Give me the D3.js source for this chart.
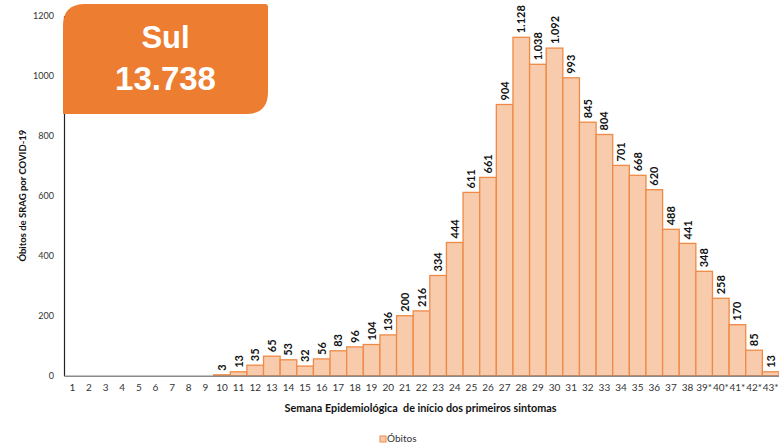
<!DOCTYPE html>
<html>
<head>
<meta charset="utf-8">
<script src="https://cdn.jsdelivr.net/npm/d3@7"></script>
<style>
  html, body { margin: 0; padding: 0; background: #fff; }
  svg { display: block; font-family: Lato, "Open Sans", sans-serif; }
</style>
</head>
<body>
<svg id="chart" width="779" height="447"></svg>
<script>
// Weekly SRAG deaths by COVID-19, South region
const weeks = ["1","2","3","4","5","6","7","8","9","10","11","12","13","14","15","16","17","18","19","20","21","22","23","24","25","26","27","28","29","30","31","32","33","34","35","36","37","38","39*","40*","41*","42*","43*"];
const deaths = [0,0,0,0,0,0,0,0,0,3,13,35,65,53,32,56,83,96,104,136,200,216,334,444,611,661,904,1128,1038,1092,993,845,804,701,668,620,488,441,348,258,170,85,13];
const yTicks = [0, 200, 400, 600, 800, 1000, 1200];
const regionName = "Sul";
const regionTotal = 13738;
const seriesName = "Óbitos";

const fmt = d3.formatLocale({ decimal: ",", thousands: ".", grouping: [3], currency: ["R$", ""] }).format(",d");

const svg = d3.select("#chart");
const margin = { left: 64, right: 0, top: 15.7, bottom: 72 };
const W = 779, H = 447;
const x0 = margin.left, x1 = W - margin.right;
const yBase = 375.7;

const x = d3.scaleBand().domain(weeks).range([x0, x1]).padding(0);
const y = d3.scaleLinear().domain([0, 1200]).range([yBase, margin.top]);

// bars
svg.append("g").selectAll("rect")
  .data(weeks.map((w, i) => ({ w, v: deaths[i] })).filter(d => d.v > 0))
  .join("rect")
  .attr("x", d => x(d.w))
  .attr("y", d => y(d.v))
  .attr("width", x.bandwidth())
  .attr("height", d => yBase - y(d.v))
  .attr("fill", "#f8cbad")
  .attr("stroke", "#ef8a45")
  .attr("stroke-width", 1.3);

// value labels
svg.append("g").selectAll("text")
  .data(weeks.map((w, i) => ({ w, v: deaths[i] })).filter(d => d.v > 0))
  .join("text")
  .attr("transform", d => `translate(${x(d.w) + x.bandwidth() / 2 + 4},${y(d.v) - 4}) rotate(-90)`)
  .attr("font-size", 11)
  .attr("font-weight", "bold")
  .attr("fill", "#111")
  .text(d => fmt(d.v));

// y axis
const yAxis = svg.append("g")
  .attr("transform", `translate(${x0},0)`)
  .call(d3.axisLeft(y).tickValues(yTicks).tickSize(0).tickPadding(10).tickFormat(d3.format("d")));
yAxis.select(".domain").attr("stroke", "#222").attr("stroke-width", 1.2);
yAxis.selectAll("text").attr("font-size", 9).attr("fill", "#333").attr("font-family", "Lato, sans-serif");

// x axis
const xAxis = svg.append("g")
  .attr("transform", `translate(0,${yBase})`)
  .call(d3.axisBottom(x).tickSize(0).tickPadding(8));
xAxis.select(".domain").attr("stroke", "#8a8a8a").attr("stroke-width", 1.5);
xAxis.selectAll("text").attr("font-size", 10).attr("fill", "#333").attr("font-family", "Lato, sans-serif");

// axis titles
svg.append("text")
  .attr("transform", `translate(26,${(yBase + margin.top) / 2}) rotate(-90)`)
  .attr("text-anchor", "middle")
  .attr("font-size", 9.5)
  .attr("font-weight", "bold")
  .attr("fill", "#111")
  .text("Óbitos de SRAG por COVID-19");

svg.append("text")
  .attr("x", 420.5)
  .attr("y", 412)
  .attr("text-anchor", "middle")
  .attr("font-size", 10.8)
  .attr("font-weight", "bold")
  .attr("fill", "#111")
  .style("white-space", "pre")
  .text("Semana Epidemiológica  de início dos primeiros sintomas");

// legend
svg.append("rect")
  .attr("x", 380).attr("y", 436).attr("width", 6).attr("height", 6)
  .attr("fill", "#f8cbad").attr("stroke", "#ef8a45").attr("stroke-width", 1);
svg.append("text")
  .attr("x", 387).attr("y", 442)
  .attr("font-size", 10).attr("fill", "#333")
  .text(seriesName);

// region badge
const bx = 63, by = 4, bw = 205, bh = 110, r = 22;
svg.append("path")
  .attr("d", `M${bx},${by + r} Q${bx},${by} ${bx + r},${by} L${bx + bw - 3},${by} Q${bx + bw},${by} ${bx + bw},${by + 3} L${bx + bw},${by + bh - r} Q${bx + bw},${by + bh} ${bx + bw - r},${by + bh} L${bx},${by + bh} Z`)
  .attr("fill", "#ed7d31");
svg.append("text")
  .attr("x", bx + bw / 2).attr("y", 48)
  .attr("text-anchor", "middle")
  .attr("font-family", "Arial, 'Liberation Sans', sans-serif")
  .attr("font-size", 31).attr("font-weight", "bold").attr("fill", "#fff")
  .text(regionName);
svg.append("text")
  .attr("x", bx + bw / 2).attr("y", 90)
  .attr("text-anchor", "middle")
  .attr("font-family", "Arial, 'Liberation Sans', sans-serif")
  .attr("font-size", 33).attr("font-weight", "bold").attr("fill", "#fff")
  .text(fmt(regionTotal));
</script>
</body>
</html>
